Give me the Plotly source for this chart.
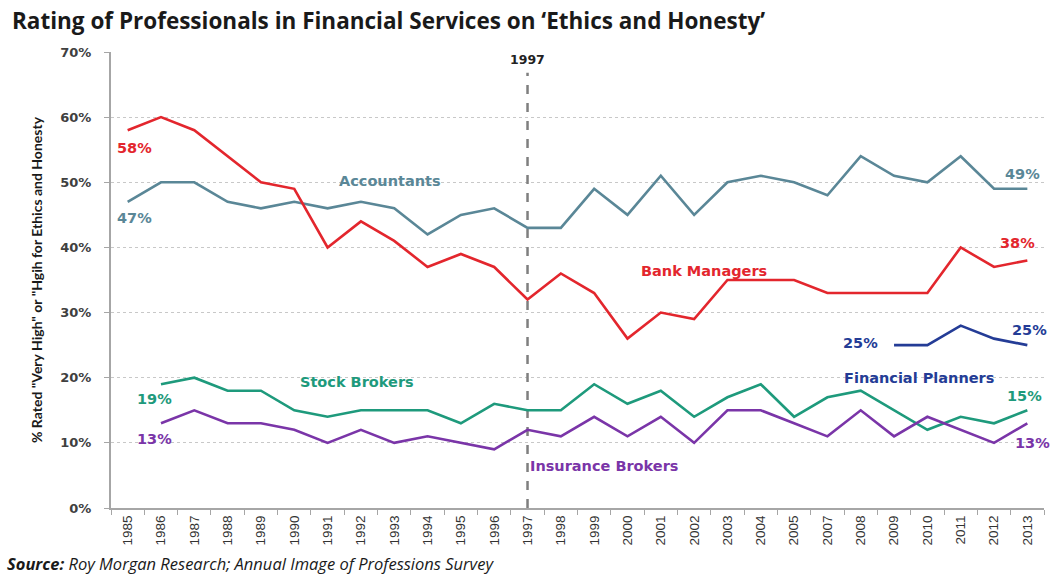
import plotly.graph_objects as go

years = ["1985","1986","1987","1988","1989","1990","1991","1992","1993","1994",
         "1995","1996","1997","1998","1999","2000","2001","2002","2003","2004",
         "2005","2007","2008","2009","2010","2011","2012","2013"]

accountants = [47,50,50,47,46,47,46,47,46,42,45,46,43,43,49,45,51,45,50,51,50,48,54,51,50,54,49,49]
bank_managers = [58,60,58,54,50,49,40,44,41,37,39,37,32,36,33,26,30,29,35,35,35,33,33,33,33,40,37,38]
financial_planners = [None]*23 + [25,25,28,26,25]
stock_brokers = [None,19,20,18,18,15,14,15,15,15,13,16,15,15,19,16,18,14,17,19,14,17,18,15,12,14,13,15]
insurance_brokers = [None,13,15,13,13,12,10,12,10,11,10,9,12,11,14,11,14,10,15,15,13,11,15,11,14,12,10,13]

y_ticks = [0,10,20,30,40,50,60,70]
y_ticktext = ["0%","10%","20%","30%","40%","50%","60%","70%"]

C_ACC = "#5a8797"
C_BANK = "#e3262d"
C_FP = "#243c96"
C_SB = "#1e9a7c"
C_IB = "#7a35a8"

LABEL_FONT = "DejaVu Sans"

fig = go.Figure()

# 1997 marker line
fig.add_trace(go.Scatter(x=["1997","1997"], y=[0,66.8], mode="lines",
                         line=dict(color="#7f7f7f", width=2.5, dash="dash"),
                         hoverinfo="skip", showlegend=False))

series = [
    (accountants, C_ACC),
    (bank_managers, C_BANK),
    (financial_planners, C_FP),
    (stock_brokers, C_SB),
    (insurance_brokers, C_IB),
]
for vals, col in series:
    fig.add_trace(go.Scatter(x=years, y=vals, mode="lines",
                             line=dict(color=col, width=2.6),
                             connectgaps=False, showlegend=False))

def lab(text, x, y, color, size=14.5):
    fig.add_annotation(x=x, y=y, xref="x", yref="y", text=text, showarrow=False,
                       font=dict(family=LABEL_FONT, size=size, color=color, weight="bold"))

lab("58%", 0.2, 55.3, C_BANK)
lab("47%", 0.2, 44.5, C_ACC)
lab("Accountants", 7.86, 50.2, C_ACC)
lab("49%", 26.85, 51.3, C_ACC)
lab("38%", 26.7, 40.7, C_BANK)
lab("Bank Managers", 17.3, 36.4, C_BANK)
lab("25%", 22.0, 25.3, C_FP)
lab("25%", 27.05, 27.3, C_FP)
lab("Financial Planners", 23.76, 20.0, C_FP)
lab("15%", 26.9, 17.2, C_SB)
lab("13%", 27.15, 10.0, C_IB)
lab("Stock Brokers", 6.87, 19.3, C_SB)
lab("19%", 0.8, 16.7, C_SB)
lab("13%", 0.8, 10.6, C_IB)
lab("Insurance Brokers", 14.3, 6.4, C_IB)
lab("1997", 12.0, 68.9, "#222222", 12.5)

fig.add_annotation(xref="paper", yref="paper", x=0, y=1.0, xshift=-101, yshift=32,
                   xanchor="left", yanchor="middle", showarrow=False,
                   text="<b>Rating of Professionals in Financial Services on \u2018Ethics and Honesty\u2019</b>",
                   font=dict(family="Open Sans", size=22.5, color="#1a1a1a"))

fig.add_annotation(xref="paper", yref="paper", x=0, y=0, xshift=-106, yshift=-55,
                   xanchor="left", yanchor="middle", showarrow=False,
                   text="<b><i>Source:</i></b><i> Roy Morgan Research; Annual Image of Professions Survey</i>",
                   font=dict(family="Open Sans", size=16.5, color="#1a1a1a"))

fig.update_layout(
    width=1053, height=574,
    margin=dict(l=111, r=9, t=52, b=66),
    plot_bgcolor="white", paper_bgcolor="white",
    xaxis=dict(type="category", categoryorder="array", categoryarray=years,
               range=[-0.5, 27.5], tickangle=-90,
               tickfont=dict(family="Liberation Sans", size=13.5, color="#333333"),
               showline=True, linecolor="#a6a6a6", linewidth=2,
               ticks="outside", tickson="boundaries", ticklen=5, tickcolor="#a6a6a6",
               showgrid=False, fixedrange=True),
    yaxis=dict(range=[0, 70], tickvals=y_ticks, ticktext=y_ticktext,
               tickfont=dict(family="DejaVu Sans", size=13, color="#404040", weight="bold"),
               showline=True, linecolor="#a6a6a6", linewidth=2,
               ticks="outside", ticklen=5, tickcolor="#a6a6a6", ticklabelstandoff=10,
               showgrid=True, gridcolor="#c8c8c8", griddash="dot", gridwidth=1,
               zeroline=False,
               title=dict(text="% Rated \"Very High\" or \"Hgih for Ethics and Honesty",
                          font=dict(family="Lato", size=14, color="#1a1a1a", weight="bold"),
                          standoff=14),
               fixedrange=True),
)

# Remove the default 8px page margin so the 1053x574 figure fills the window exactly.
fig.write_html("out.html", config={"displayModeBar": False},
               post_script="document.body.style.margin='0';")
